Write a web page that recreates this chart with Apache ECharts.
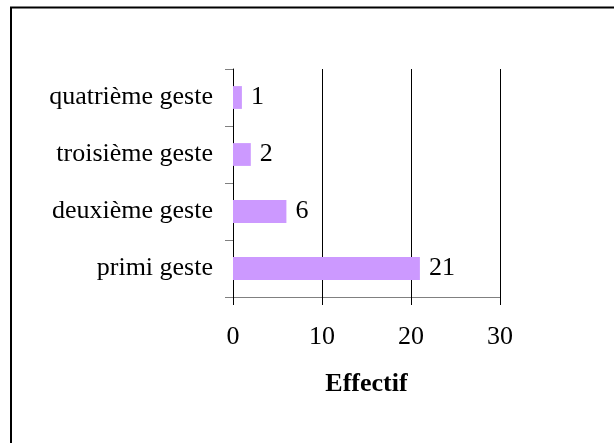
<!DOCTYPE html>
<html>
<head>
<meta charset="utf-8">
<script src="https://cdn.jsdelivr.net/npm/echarts@6/dist/echarts.min.js"></script>
<style>
html,body{margin:0;padding:0;background:#fff;}
#c{width:614px;height:443px;}
</style>
</head>
<body>
<div id="c"></div>
<script>
var categories = ['primi geste', 'deuxième geste', 'troisième geste', 'quatrième geste'];
var values = [21, 6, 2, 1];
var xTicks = [0, 10, 20, 30];
var axisName = 'Effectif';

var chart = echarts.init(document.getElementById('c'), null, {renderer: 'canvas'});
var font = '"Liberation Serif", "Times New Roman", serif';
chart.setOption({
  animation: false,
  backgroundColor: '#fff',
  graphic: [{
    type: 'rect',
    shape: {x: 11, y: 7.5, width: 700, height: 500},
    style: {fill: 'none', stroke: '#000', lineWidth: 2},
    silent: true
  }],
  grid: {left: 233, right: 114, top: 69, bottom: 146, containLabel: false},
  xAxis: {
    type: 'value',
    min: xTicks[0],
    max: xTicks[xTicks.length - 1],
    interval: 10,
    name: axisName,
    nameLocation: 'middle',
    nameGap: 74,
    nameTextStyle: {fontFamily: font, fontSize: 26, fontWeight: 'bold', color: '#000'},
    axisLine: {show: true, lineStyle: {color: '#808080', width: 1}},
    axisTick: {show: true, length: 8, lineStyle: {color: '#000'}},
    axisLabel: {fontFamily: font, fontSize: 26, color: '#000', margin: 27},
    splitLine: {show: true, lineStyle: {color: '#000', width: 1}}
  },
  yAxis: {
    type: 'category',
    data: categories,
    axisLine: {show: true, lineStyle: {color: '#000', width: 1}},
    axisTick: {show: true, length: 8, lineStyle: {color: '#808080'}},
    axisLabel: {fontFamily: font, fontSize: 26, color: '#000', margin: 20},
    splitLine: {show: false}
  },
  series: [{
    type: 'bar',
    data: values,
    barCategoryGap: '60%',
    itemStyle: {color: '#CC99FF'},
    label: {show: true, position: 'right', distance: 9, fontFamily: font, fontSize: 26, color: '#000'}
  }]
});
</script>
</body>
</html>
